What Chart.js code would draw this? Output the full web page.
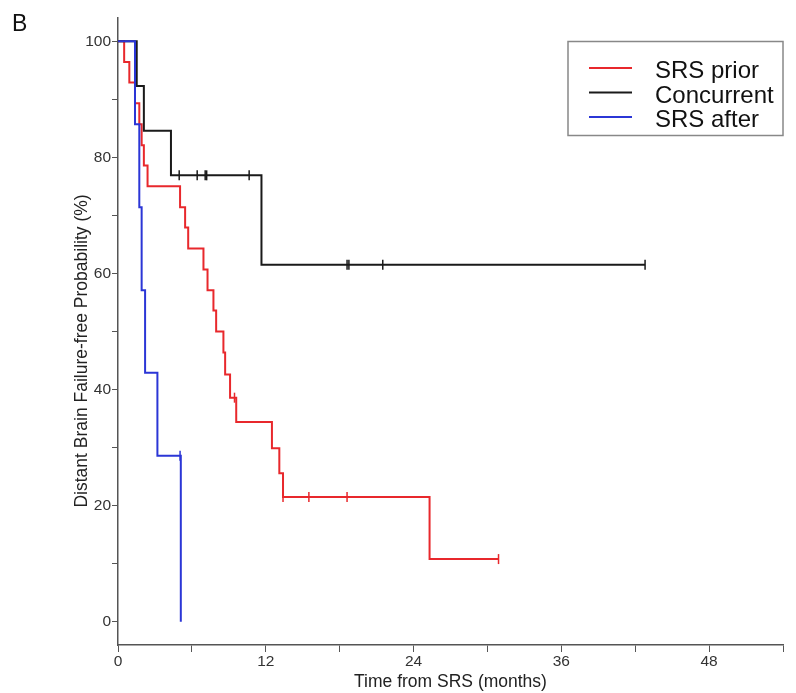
<!DOCTYPE html>
<html>
<head>
<meta charset="utf-8">
<script src="https://cdn.jsdelivr.net/npm/chart.js@4.4.1/dist/chart.umd.min.js"></script>
<style>
  html, body { margin: 0; padding: 0; background: #fff; }
  #wrap { position: relative; width: 796px; height: 693px; }
</style>
</head>
<body>
<div id="wrap"><canvas id="km"></canvas></div>
<script>
// Kaplan-Meier steps: [months, survival %]
const srsPrior = [[0, 100], [0.5, 96.4], [0.92, 92.9], [1.38, 89.3], [1.73, 85.7], [1.92, 82.1], [2.1, 78.6],
    [2.4, 75.0], [5.04, 71.4], [5.45, 67.9], [5.7, 64.3], [6.94, 60.7], [7.27, 57.1], [7.75, 53.6],
    [7.97, 50.0], [8.56, 46.4], [8.7, 42.6], [9.1, 38.6], [9.6, 34.4], [12.5, 29.9], [13.1, 25.6],
    [13.4, 21.5], [25.3, 10.8], [30.9, 10.8]];
const srsPriorCensored = [[9.46, 38.6], [13.4, 21.5], [15.5, 21.5], [18.6, 21.5], [30.9, 10.8]];

const concurrent = [[0, 100], [1.52, 92.3], [2.1, 84.6], [4.3, 76.9], [11.65, 61.5], [42.8, 61.5]];
const concurrentCensored = [[4.97, 76.9], [6.43, 76.9], [7.08, 76.9], [7.2, 76.9], [10.65, 76.9],
    [18.6, 61.5], [18.75, 61.5], [21.5, 61.5], [42.8, 61.5]];

const srsAfter = [[0, 100], [1.38, 85.7], [1.73, 71.4], [1.92, 57.1], [2.2, 42.9], [3.2, 28.6], [5.1, 0]];
const srsAfterCensored = [[5.04, 28.6]];

const seriesNames = ['SRS prior', 'Concurrent', 'SRS after'];
const seriesColors = ['#e8282c', '#1a1a1a', '#2b36d6'];

const xTickValues = [0, 6, 12, 18, 24, 30, 36, 42, 48, 54];
const xTickLabels = ['0', '', '12', '', '24', '', '36', '', '48', ''];
const yTickValues = [0, 10, 20, 30, 40, 50, 60, 70, 80, 90, 100];
const yTickLabels = ['0', '', '20', '', '40', '', '60', '', '80', '', '100'];

const toPts = arr => arr.map(p => ({ x: p[0], y: p[1] }));

const AXIS_GRAY = '#555';
const FONT = '"Liberation Sans", Arial, sans-serif';

function stepSet(i, data, order) {
    return {
        label: seriesNames[i],
        data: toPts(data),
        borderColor: seriesColors[i],
        borderWidth: 2,
        stepped: true,
        pointRadius: 0,
        fill: false,
        order: order,
        inLegend: true
    };
}

function censorSet(i, data, order) {
    return {
        label: seriesNames[i] + ' censored',
        data: toPts(data),
        showLine: false,
        borderColor: seriesColors[i],
        borderWidth: 1.5,
        pointStyle: 'line',
        rotation: 90,
        pointRadius: 5,
        order: order
    };
}

// legend box + panel letter drawn on the canvas
const extras = {
    id: 'extras',
    afterDraw(chart) {
        const c = chart.ctx;
        c.save();
        c.fillStyle = '#111';
        c.font = '23px ' + FONT;
        c.textBaseline = 'alphabetic';
        c.fillText('B', 12, 31);

        c.strokeStyle = '#888';
        c.lineWidth = 1.5;
        c.strokeRect(568, 41.5, 215, 94);

        const sets = chart.data.datasets.filter(d => d.inLegend);
        c.font = '24px ' + FONT;
        sets.forEach((d, i) => {
            const ly = 68 + i * 24.5;
            c.strokeStyle = d.borderColor;
            c.lineWidth = 2;
            c.beginPath();
            c.moveTo(589, ly);
            c.lineTo(632, ly);
            c.stroke();
            c.fillStyle = '#111';
            c.fillText(d.label, 655, ly + 10);
        });
        c.restore();
    }
};

new Chart(document.getElementById('km'), {
    type: 'line',
    data: {
        datasets: [
            stepSet(0, srsPrior, 3),
            stepSet(1, concurrent, 2),
            stepSet(2, srsAfter, 1),
            censorSet(0, srsPriorCensored, 3),
            censorSet(1, concurrentCensored, 2),
            censorSet(2, srsAfterCensored, 1)
        ]
    },
    options: {
        responsive: true,
        maintainAspectRatio: false,
        animation: false,
        layout: { padding: { top: 18, right: 13, left: 0, bottom: 0 } },
        plugins: {
            legend: { display: false },
            tooltip: { enabled: false }
        },
        scales: {
            x: {
                type: 'linear',
                min: 0,
                max: 54,
                afterFit: s => { s.height = 48; },
                afterBuildTicks: s => { s.ticks = xTickValues.map(v => ({ value: v })); },
                grid: { drawOnChartArea: false, drawTicks: true, tickLength: 7, color: AXIS_GRAY, lineWidth: 1 },
                border: { display: true, color: AXIS_GRAY, width: 1.5 },
                ticks: {
                    autoSkip: false,
                    maxRotation: 0,
                    padding: 0,
                    color: '#333',
                    font: { family: FONT, size: 15.5 },
                    callback: (v, idx) => xTickLabels[idx]
                },
                title: {
                    display: true,
                    text: 'Time from SRS (months)',
                    color: '#222',
                    font: { family: FONT, size: 17.5 },
                    padding: { top: 0, bottom: 0 }
                }
            },
            y: {
                type: 'linear',
                min: -4,
                max: 104,
                afterFit: s => { s.width = 118; },
                afterBuildTicks: s => { s.ticks = yTickValues.map(v => ({ value: v })); },
                grid: { drawOnChartArea: false, drawTicks: true, tickLength: 6, color: AXIS_GRAY, lineWidth: 1 },
                border: { display: true, color: AXIS_GRAY, width: 1.5 },
                ticks: {
                    autoSkip: false,
                    padding: 1,
                    color: '#333',
                    font: { family: FONT, size: 15.5 },
                    callback: (v, idx) => yTickLabels[idx]
                },
                title: {
                    display: true,
                    text: 'Distant Brain Failure-free Probability (%)' + ' '.repeat(8),
                    color: '#222',
                    font: { family: FONT, size: 17.5 },
                    padding: { top: 72, bottom: 0 }
                }
            }
        }
    },
    plugins: [extras]
});
</script>
</body>
</html>
